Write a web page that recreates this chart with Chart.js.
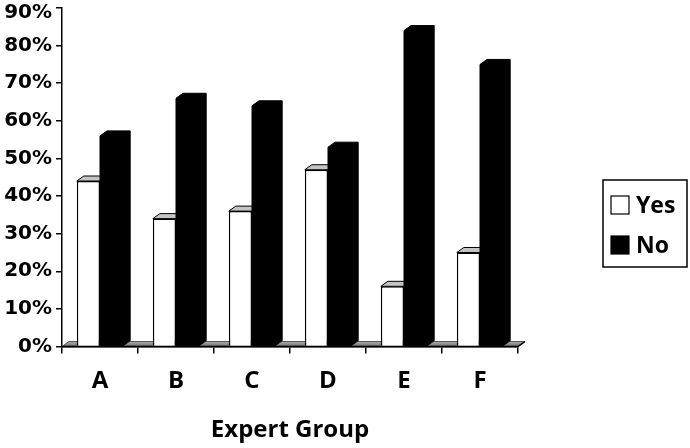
<!DOCTYPE html>
<html><head><meta charset="utf-8">
<script src="https://cdn.jsdelivr.net/npm/chart.js@4/dist/chart.umd.min.js"></script>
<style>html,body{margin:0;padding:0;background:#fff}#wrap{width:690px;height:448px;position:relative}</style>
</head><body><div id="wrap"><canvas id="c" width="690" height="448"></canvas></div>
<script>
const categories = ['A', 'B', 'C', 'D', 'E', 'F'];
const yesValues = [44, 34, 36, 47, 16, 25];
const noValues = [56, 66, 64, 53, 84, 75];
const yTickValues = [0, 10, 20, 30, 40, 50, 60, 70, 80, 90];
const seriesNames = ['Yes', 'No'];
const xAxisTitle = 'Expert Group';

const DX = 7, DY = -5;
const LABEL_FONT = "'Open Sans', Lato, sans-serif";
const Y_MAX = yTickValues[yTickValues.length - 1];

const depthPlugin = {
  id: 'depth3d',
  beforeDatasetsDraw(chart) {
    const ctx = chart.ctx, a = chart.chartArea;
    const y0 = chart.scales.y.getPixelForValue(0);
    ctx.save();
    ctx.beginPath();
    ctx.moveTo(a.left, y0); ctx.lineTo(a.right, y0);
    ctx.lineTo(a.right + DX, y0 + DY); ctx.lineTo(a.left + DX, y0 + DY);
    ctx.closePath();
    const g = ctx.createLinearGradient(0, y0 + DY, 0, y0);
    g.addColorStop(0, '#b0b0b0'); g.addColorStop(1, '#6a6a6a');
    ctx.fillStyle = g; ctx.fill();
    ctx.strokeStyle = '#555'; ctx.lineWidth = 1; ctx.stroke();
    ctx.beginPath(); ctx.moveTo(a.left, y0); ctx.lineTo(a.right, y0); ctx.lineTo(a.right + DX, y0 + DY);
    ctx.strokeStyle = '#000'; ctx.lineWidth = 1.5; ctx.stroke();
    ctx.restore();
  },
  afterDatasetsDraw(chart) {
    const ctx = chart.ctx;
    const yesMeta = chart.getDatasetMeta(0), noMeta = chart.getDatasetMeta(1);
    yesMeta.data.forEach(bar => {
      const p = bar.getProps(['x', 'y', 'width'], true);
      const l = p.x - p.width / 2, r = p.x + p.width / 2;
      ctx.save();
      ctx.beginPath(); ctx.rect(0, 0, r, chart.height); ctx.clip();
      ctx.beginPath();
      ctx.moveTo(l, p.y); ctx.lineTo(l + DX, p.y + DY); ctx.lineTo(r + DX, p.y + DY); ctx.lineTo(r, p.y);
      ctx.closePath();
      ctx.fillStyle = '#c4c4c4'; ctx.fill();
      ctx.strokeStyle = '#000'; ctx.lineWidth = 1; ctx.stroke();
      ctx.restore();
    });
    noMeta.data.forEach(bar => {
      const p = bar.getProps(['x', 'y', 'width', 'base'], true);
      const l = p.x - p.width / 2, r = p.x + p.width / 2;
      ctx.save();
      ctx.fillStyle = '#000'; ctx.strokeStyle = '#000'; ctx.lineWidth = 1;
      ctx.beginPath();
      ctx.moveTo(l, p.base); ctx.lineTo(l, p.y);
      ctx.lineTo(l + DX, p.y + DY); ctx.lineTo(r + DX, p.y + DY);
      ctx.lineTo(r + DX, p.base + DY); ctx.lineTo(r, p.base);
      ctx.closePath(); ctx.fill(); ctx.stroke();
      ctx.restore();
    });
  },
  afterDraw(chart) {
    const ctx = chart.ctx;
    const bx = 603, by = 180, bw = 84, bh = 87;
    ctx.save();
    ctx.strokeStyle = '#000'; ctx.lineWidth = 1.5;
    ctx.strokeRect(bx, by, bw, bh);
    chart.data.datasets.forEach((ds, i) => {
      const cy = 205 + i * 40;
      ctx.fillStyle = ds.backgroundColor;
      ctx.fillRect(611, cy - 9, 18, 18);
      ctx.strokeStyle = '#000'; ctx.lineWidth = 1.2;
      ctx.strokeRect(611, cy - 9, 18, 18);
      ctx.fillStyle = '#000';
      ctx.font = "bold 23px " + LABEL_FONT;
      ctx.textBaseline = 'middle'; ctx.textAlign = 'left';
      ctx.fillText(ds.label, 636, cy + 1);
    });
    ctx.restore();
  }
};

new Chart(document.getElementById('c'), {
  type: 'bar',
  data: {
    labels: categories,
    datasets: [
      { label: seriesNames[0], data: yesValues, backgroundColor: '#ffffff', borderColor: '#000', borderWidth: 1.5 },
      { label: seriesNames[1], data: noValues, backgroundColor: '#000000', borderColor: '#000', borderWidth: 0 }
    ]
  },
  options: {
    responsive: false,
    animation: false,
    devicePixelRatio: 1,
    categoryPercentage: 0.61,
    barPercentage: 1,
    layout: { padding: { top: 8, right: 172, left: 0, bottom: 0 } },
    plugins: { legend: { display: false }, tooltip: { enabled: false } },
    scales: {
      x: {
        grid: { offset: true, drawOnChartArea: false, tickLength: 7, color: '#000', lineWidth: 1.5 },
        border: { color: '#000', width: 1.5 },
        ticks: { color: '#000', font: { family: LABEL_FONT, weight: 'bold', size: 24 }, padding: 13 },
        title: { display: true, text: xAxisTitle, color: '#000', font: { family: LABEL_FONT, weight: 'bold', size: 24 }, padding: { top: 4, bottom: 3 } },
        afterFit(s) { s.height = 101.5; s.paddingLeft = 0; s.paddingRight = 0; }
      },
      y: {
        min: 0, max: Y_MAX,
        afterBuildTicks(s) { s.ticks = yTickValues.map(v => ({ value: v })); },
        grid: { drawOnChartArea: false, tickLength: 6, color: '#000', lineWidth: 1.5 },
        border: { color: '#000', width: 1.5 },
        ticks: {
          color: '#000', padding: 4,
          font: c => ({ family: 'DejaVu Sans', weight: 'bold', size: 20,
            lineHeight: (c.tick && c.tick.value === Y_MAX) ? '10px' : 1.2 }),
          callback: v => v === Y_MAX ? ['', v + '%'] : v + '%'
        },
        afterFit(s) { s.width = 62; s.paddingTop = 0; s.paddingBottom = 0; }
      }
    }
  },
  plugins: [depthPlugin]
});
</script></body></html>
